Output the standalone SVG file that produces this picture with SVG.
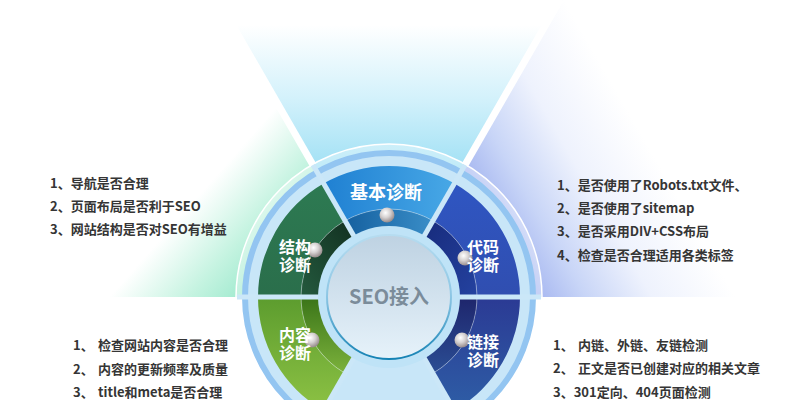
<svg xmlns="http://www.w3.org/2000/svg" width="805" height="400" viewBox="0 0 805 400">
<defs>
  <linearGradient id="fanTop" gradientUnits="userSpaceOnUse" x1="0" y1="175" x2="0" y2="25">
    <stop offset="0" stop-color="#9cdff4"/>
    <stop offset="0.5" stop-color="#d2f1fb"/>
    <stop offset="1" stop-color="#ffffff"/>
  </linearGradient>
  <linearGradient id="fanLeft" gradientUnits="userSpaceOnUse" x1="314" y1="231" x2="231.5" y2="158.4">
    <stop offset="0" stop-color="#98e8cb"/>
    <stop offset="0.45" stop-color="#c4f3e0"/>
    <stop offset="1" stop-color="#ffffff"/>
  </linearGradient>
  <linearGradient id="fanRight" gradientUnits="userSpaceOnUse" x1="492.9" y1="237" x2="648.8" y2="147">
    <stop offset="0" stop-color="#a0b1ef"/>
    <stop offset="0.28" stop-color="#c8d5f7"/>
    <stop offset="0.6" stop-color="#eef2fd"/>
    <stop offset="1" stop-color="#ffffff"/>
  </linearGradient>
  <linearGradient id="topOut" x1="0" y1="0" x2="1" y2="0">
    <stop offset="0" stop-color="#1f80d2"/>
    <stop offset="1" stop-color="#48a8e6"/>
  </linearGradient>
  <linearGradient id="topIn" x1="0" y1="0" x2="1" y2="0">
    <stop offset="0" stop-color="#15609f"/>
    <stop offset="1" stop-color="#3a8ec8"/>
  </linearGradient>
  <linearGradient id="strOut" x1="0" y1="0" x2="0" y2="1">
    <stop offset="0" stop-color="#2d7a52"/>
    <stop offset="1" stop-color="#2a6e4b"/>
  </linearGradient>
  <linearGradient id="strIn" x1="1" y1="0" x2="0" y2="1">
    <stop offset="0" stop-color="#112e1f"/>
    <stop offset="1" stop-color="#245a3e"/>
  </linearGradient>
  <linearGradient id="conOut" x1="0" y1="0" x2="0" y2="1">
    <stop offset="0" stop-color="#5c9c2e"/>
    <stop offset="1" stop-color="#8dc244"/>
  </linearGradient>
  <linearGradient id="conIn" x1="0" y1="0" x2="0" y2="1">
    <stop offset="0" stop-color="#3a7418"/>
    <stop offset="1" stop-color="#7cb23c"/>
  </linearGradient>
  <linearGradient id="codOut" x1="0" y1="0" x2="0" y2="1">
    <stop offset="0" stop-color="#2f56c2"/>
    <stop offset="1" stop-color="#304eb0"/>
  </linearGradient>
  <linearGradient id="codIn" x1="0" y1="0" x2="1" y2="1">
    <stop offset="0" stop-color="#172a7a"/>
    <stop offset="1" stop-color="#2442a0"/>
  </linearGradient>
  <linearGradient id="lnkOut" x1="0" y1="0" x2="0" y2="1">
    <stop offset="0" stop-color="#2b3a94"/>
    <stop offset="1" stop-color="#2e5ea6"/>
  </linearGradient>
  <linearGradient id="lnkIn" x1="0" y1="0" x2="0" y2="1">
    <stop offset="0" stop-color="#1e256c"/>
    <stop offset="1" stop-color="#2b4e94"/>
  </linearGradient>
  <linearGradient id="core" x1="0" y1="0" x2="0" y2="1">
    <stop offset="0" stop-color="#bed2e2"/>
    <stop offset="1" stop-color="#e6f2fa"/>
  </linearGradient>
  <linearGradient id="coreStroke" x1="0" y1="0" x2="0" y2="1">
    <stop offset="0" stop-color="#b6dcf0"/>
    <stop offset="0.5" stop-color="#8cc6e4"/>
    <stop offset="1" stop-color="#1582b4"/>
  </linearGradient>
  <radialGradient id="ball" cx="0.4" cy="0.35" r="0.65">
    <stop offset="0" stop-color="#ffffff"/>
    <stop offset="0.5" stop-color="#d6d2d2"/>
    <stop offset="1" stop-color="#978c8c"/>
  </radialGradient>
</defs>
<style>
  .lbl { font-family: "Noto Sans CJK SC", "Noto Sans", sans-serif; font-weight: bold; font-size: 16px; fill: #ffffff; text-anchor: middle; }
  .lbl-top { font-size: 18px; }
  .core { font-family: "Noto Sans CJK SC", "Noto Sans", sans-serif; font-weight: bold; font-size: 20px; fill: #7b8c9a; text-anchor: middle; }
  .item { font-family: "Noto Sans CJK SC", "Noto Sans", sans-serif; font-weight: bold; font-size: 13px; fill: #353535; }
  .gap { stroke: #cbe7f8; stroke-width: 5; fill: none; }
  .fanline { stroke: #ffffff; stroke-width: 7; }
  .ball { fill: url(#ball); }
</style>
<rect width="805" height="400" fill="#ffffff"/>

<g id="background">
  <polygon points="389,297 589,-49.4 189,-49.4" fill="url(#fanTop)"/>
  <polygon points="389,297 189,-49.4 -20,-49.4 -20,297" fill="url(#fanLeft)"/>
  <polygon points="389,297 589,-49.4 825,-49.4 825,297" fill="url(#fanRight)"/>
  <line class="fanline" x1="465" y1="165" x2="560" y2="0"/>
  <line class="fanline" x1="313" y1="165" x2="218" y2="0"/>
</g>

<g id="wheel">
  <circle cx="389" cy="297" r="153" fill="#ffffff" fill-opacity="0.35" stroke="#ffffff" stroke-width="1.5"/>
  <circle cx="389" cy="297" r="144" fill="#c8e6f8" stroke="#93c5f1" stroke-width="6"/>
</g>

<g id="node-jiben">
  <path d="M454.5,183.55 A131,131 0 0 0 323.5,183.55 L345,220.79 A88,88 0 0 1 433,220.79 Z" fill="url(#topOut)"/>
  <path d="M433,220.79 A88,88 0 0 0 345,220.79 L359,245.04 A60,60 0 0 1 419,245.04 Z" fill="url(#topIn)"/>
</g>
<g id="node-jiegou">
  <path d="M323.5,183.55 A131,131 0 0 0 258,297 L301,297 A88,88 0 0 1 345,220.79 Z" fill="url(#strOut)"/>
  <path d="M345,220.79 A88,88 0 0 0 301,297 L329,297 A60,60 0 0 1 359,245.04 Z" fill="url(#strIn)"/>
</g>
<g id="node-neirong">
  <path d="M258,297 A131,131 0 0 0 323.5,410.45 L345,373.21 A88,88 0 0 1 301,297 Z" fill="url(#conOut)"/>
  <path d="M301,297 A88,88 0 0 0 345,373.21 L359,348.96 A60,60 0 0 1 329,297 Z" fill="url(#conIn)"/>
</g>
<g id="node-daima">
  <path d="M520,297 A131,131 0 0 0 454.5,183.55 L433,220.79 A88,88 0 0 1 477,297 Z" fill="url(#codOut)"/>
  <path d="M477,297 A88,88 0 0 0 433,220.79 L419,245.04 A60,60 0 0 1 449,297 Z" fill="url(#codIn)"/>
</g>
<g id="node-lianjie">
  <path d="M454.5,410.45 A131,131 0 0 0 520,297 L477,297 A88,88 0 0 1 433,373.21 Z" fill="url(#lnkOut)"/>
  <path d="M433,373.21 A88,88 0 0 0 477,297 L449,297 A60,60 0 0 1 419,348.96 Z" fill="url(#lnkIn)"/>
</g>

<g id="dividers">
  <path d="M433,373.21 A88,88 0 1 0 345,373.21" fill="none" stroke="#ffffff" stroke-opacity="0.35" stroke-width="1"/>
  <line class="gap" x1="449" y1="297" x2="541" y2="297"/>
  <line class="gap" x1="419" y1="245.04" x2="465" y2="165"/>
  <line class="gap" x1="359" y1="245.04" x2="313" y2="165"/>
  <line class="gap" x1="329" y1="297" x2="237" y2="297"/>
  <line class="gap" x1="419" y1="348.96" x2="465" y2="429"/>
  <line class="gap" x1="359" y1="348.96" x2="313" y2="429"/>
</g>

<g id="node-core">
  <circle cx="389" cy="297" r="71" fill="#bfe3f7"/>
  <circle cx="389" cy="297" r="62" fill="url(#core)" stroke="url(#coreStroke)" stroke-width="2"/>
  <text class="core" x="389" y="304">SEO接入</text>
</g>

<g id="balls">
  <circle class="ball" cx="387" cy="215" r="7.5"/>
  <circle class="ball" cx="315" cy="250" r="7.5"/>
  <circle class="ball" cx="465" cy="258" r="7.5"/>
  <circle class="ball" cx="312" cy="340" r="7.5"/>
  <circle class="ball" cx="462" cy="340" r="7.5"/>
</g>

<g id="labels">
  <text class="lbl lbl-top" x="386" y="199">基本诊断</text>
  <text class="lbl" x="295" y="253">结构<tspan x="295" y="271">诊断</tspan></text>
  <text class="lbl" x="483" y="253">代码<tspan x="483" y="271">诊断</tspan></text>
  <text class="lbl" x="295" y="341">内容<tspan x="295" y="359">诊断</tspan></text>
  <text class="lbl" x="483" y="348">链接<tspan x="483" y="366">诊断</tspan></text>
</g>

<g id="list-jiegou">
  <text class="item" x="50" y="188">1、导航是否合理</text>
  <text class="item" x="50" y="211">2、页面布局是否利于SEO</text>
  <text class="item" x="50" y="234">3、网站结构是否对SEO有增益</text>
</g>
<g id="list-daima">
  <text class="item" x="557" y="190">1、是否使用了Robots.txt文件、</text>
  <text class="item" x="557" y="213">2、是否使用了sitemap</text>
  <text class="item" x="557" y="236">3、是否采用DIV+CSS布局</text>
  <text class="item" x="557" y="260">4、检查是否合理适用各类标签</text>
</g>
<g id="list-neirong">
  <text class="item" x="73" y="350">1、<tspan x="98">检查网站内容是否合理</tspan></text>
  <text class="item" x="73" y="374">2、<tspan x="98">内容的更新频率及质量</tspan></text>
  <text class="item" x="73" y="397">3、<tspan x="98">title和meta是否合理</tspan></text>
</g>
<g id="list-lianjie">
  <text class="item" x="553" y="350">1、<tspan x="578">内链、外链、友链检测</tspan></text>
  <text class="item" x="553" y="373">2、<tspan x="578">正文是否已创建对应的相关文章</tspan></text>
  <text class="item" x="553" y="397">3、301定向、404页面检测</text>
</g>
<g id="connectors"/>
</svg>
